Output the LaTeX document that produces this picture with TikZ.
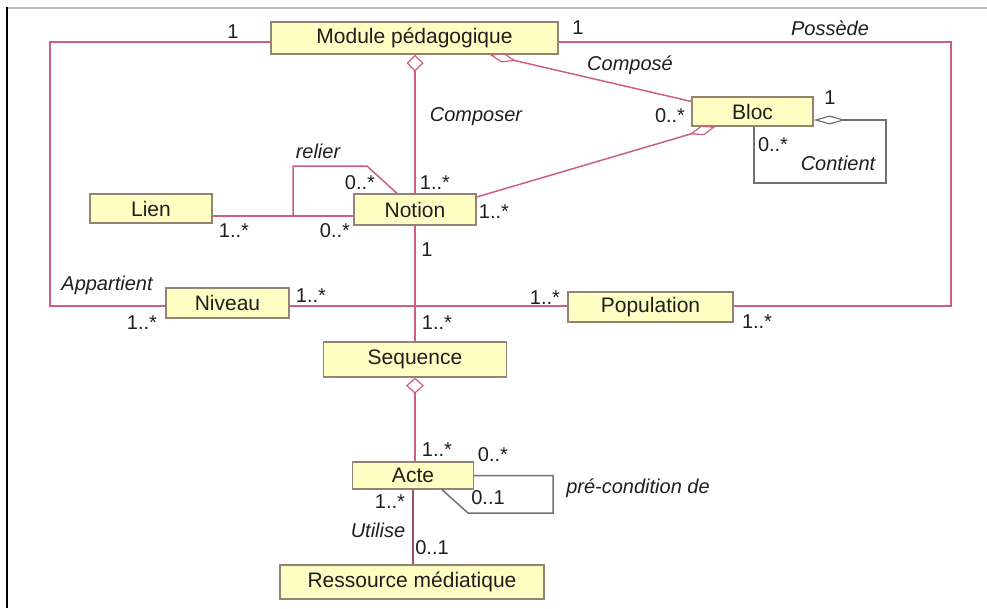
\documentclass[tikz,border=0pt]{standalone}
\usepackage{fontspec}
\setmainfont{Liberation Sans}
\usetikzlibrary{arrows.meta}
\definecolor{boxfill}{RGB}{255,255,196}
\definecolor{boxline}{RGB}{150,130,115}
\definecolor{assoc}{RGB}{205,95,125}
\definecolor{loopc}{RGB}{120,110,110}
\definecolor{darkassoc}{RGB}{150,85,95}
\definecolor{txt}{RGB}{30,30,30}
\begin{document}
\begin{tikzpicture}[x=1pt,y=-1pt,
  cls/.style={draw=boxline, fill=boxfill, line width=1.3pt, inner sep=0pt,
    text=txt, font=\fontsize{21}{24}\selectfont},
  lab/.style={text=txt, inner sep=0pt, font=\fontsize{20}{24}\selectfont},
  ilab/.style={lab, font=\fontsize{20}{24}\selectfont\itshape},
  assocline/.style={draw=assoc, line width=1.5pt},
  loopline/.style={draw=loopc, line width=1.5pt},
  dsq/.style={{Diamond[open,length=17pt,width=17pt,line width=1.2pt]}-},
  dlong/.style={{Diamond[open,length=27pt,width=10pt,line width=1.2pt]}-}
]
\useasboundingbox (0,0) rectangle (987,608);
% frame
\draw[black!25, line width=2pt] (8,8) -- (987,8);
\draw[black, line width=2.5pt] (7,7) -- (7,608);

% classes
\node[cls, minimum width=287, minimum height=32] (mod) at (414.5,38) {Module pédagogique};
\node[cls, minimum width=121, minimum height=29] (bloc) at (752.5,111.5) {Bloc};
\node[cls, minimum width=122, minimum height=29] (lien) at (151,208.5) {Lien};
\node[cls, minimum width=122, minimum height=31] (notion) at (415,209.5) {Notion};
\node[cls, minimum width=123, minimum height=30] (niveau) at (227.5,303) {Niveau};
\node[cls, minimum width=165, minimum height=30] (pop) at (650.5,307) {Population};
\node[cls, minimum width=183, minimum height=35] (seq) at (415,359.5) {Sequence};
\node[cls, minimum width=121, minimum height=27] (acte) at (413,475.5) {Acte};
\node[cls, minimum width=264, minimum height=34] (res) at (412,582) {Ressource médiatique};

% associations
\coordinate (lc) at (50,42);
\coordinate (rc) at (951,42);
\draw[assocline] ([yshift=-4pt]mod.west) -- (lc) |- ([yshift=-3pt]niveau.west);
\draw[assocline] ([yshift=-4pt]mod.east) -- (rc) |- ([yshift=1pt]pop.east);
\draw[assocline, dsq] (mod.south -| notion.north) -- (notion.north);
\draw[assocline, dlong] ([xshift=75pt]mod.south) -- ([yshift=10pt]bloc.west);
\draw[assocline, dlong] ([xshift=-37pt]bloc.south) -- ([yshift=12.5pt]notion.east);
\coordinate (c1) at (886,120);
\coordinate (c2) at (886,183);
\coordinate (c3) at (754,183);
\draw[loopline, {Diamond[open,length=32pt,width=9pt,line width=1.2pt]}-]
  ([yshift=-8.5pt]bloc.east) -- (c1) -- (c2) -- (c3) -- (c3 |- bloc.south);
\coordinate (ln) at ([yshift=-7.5pt]lien.east);
\draw[assocline] (ln) -- (ln -| notion.west);
\coordinate (r1) at (367,166);
\coordinate (r2) at (293,166);
\draw[assocline] ([xshift=-18pt]notion.north) -- (r1) -- (r2) -- (r2 |- ln);
\draw[assocline] (notion.south) -- (notion.south |- seq.north);
\coordinate (nv) at ([yshift=-3pt]niveau.east);
\draw[assocline] (nv) -- (nv -| pop.west);
\draw[assocline, {Diamond[open,length=16pt,width=18pt,line width=1.2pt]}-] (seq.south) -- (seq.south |- acte.north);
\coordinate (p1) at (553,475.5);
\coordinate (p2) at (553,513);
\coordinate (p3) at (468,513);
\draw[loopline] (acte.east) -- (p1) -- (p2) -- (p3) -- ([xshift=29pt]acte.south);
\draw[draw=darkassoc, line width=1.5pt] (acte.south) -- (acte.south |- res.north);

% labels
\node[lab] (l1) at (233,32) {1};
\node[lab] (l2) at (578,28) {1};
\node[ilab] (l3) at (830,28) {Possède};
\node[ilab] (l4) at (630,65) {Composé};
\node[ilab] (l5) at (476,117) {Composer};
\node[lab] (l6) at (670,116) {0..*};
\node[lab] (l7) at (830,98) {1};
\node[lab] (l8) at (773,145) {0..*};
\node[ilab] (l9) at (838,163) {Contient};
\node[ilab] (l10) at (318,151) {relier};
\node[lab] (l11) at (360,183) {0..*};
\node[lab] (l12) at (435,183) {1..*};
\node[lab] (l13) at (494,212) {1..*};
\node[lab] (l14) at (234,231) {1..*};
\node[lab] (l15) at (335,231) {0..*};
\node[lab] (l16) at (427,250) {1};
\node[ilab] (l17) at (107,285) {Appartient};
\node[lab] (l18) at (142,323) {1..*};
\node[lab] (l19) at (311,296) {1..*};
\node[lab] (l20) at (437,323) {1..*};
\node[lab] (l21) at (545,298) {1..*};
\node[lab] (l22) at (757,322) {1..*};
\node[lab] (l23) at (437,450) {1..*};
\node[lab] (l24) at (493,455) {0..*};
\node[ilab] (l25) at (638,488) {pré-condition de};
\node[lab] (l26) at (488,498) {0..1};
\node[lab] (l27) at (390,502) {1..*};
\node[ilab] (l28) at (378,530) {Utilise};
\node[lab] (l29) at (432,548) {0..1};
\end{tikzpicture}
\end{document}
